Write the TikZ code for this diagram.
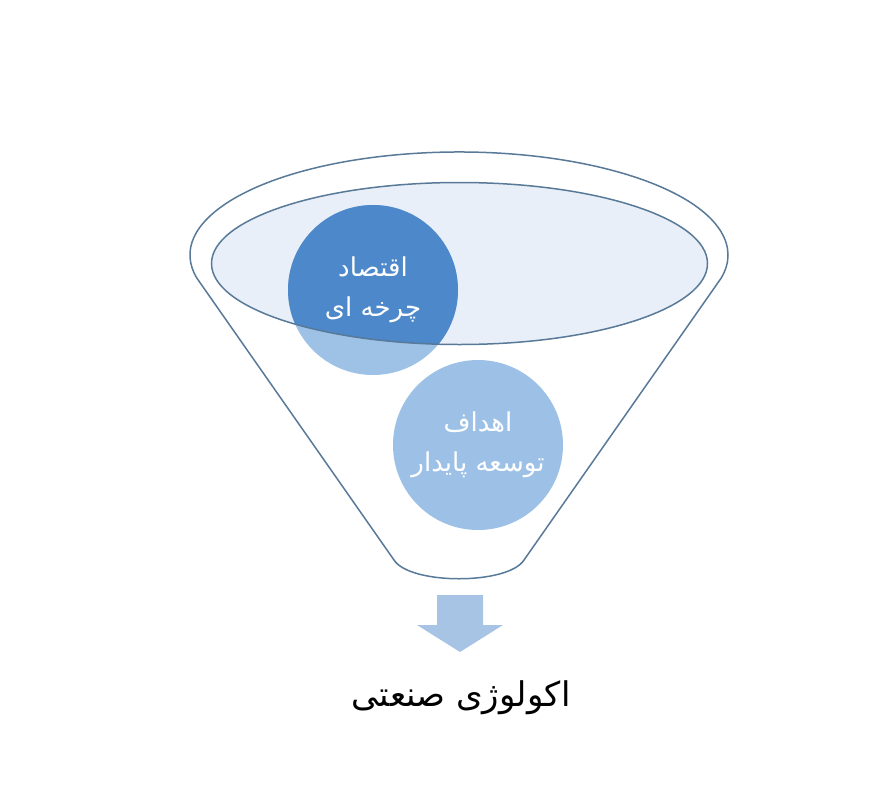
\documentclass[tikz,border=0pt]{standalone}
\usepackage{fontspec}
\newfontfamily\arabicfont[Script=Arabic]{DejaVu Sans}
\TeXXeTstate=1
\definecolor{rimline}{RGB}{88,122,152}
\definecolor{rimfill}{RGB}{233,239,248}
\definecolor{cycdark}{RGB}{76,136,202}
\definecolor{cyclight}{RGB}{158,194,230}
\definecolor{goalblue}{RGB}{157,193,230}
\definecolor{arrowblue}{RGB}{168,196,228}

\begin{document}
\begin{tikzpicture}[x=1pt, y=-1pt,
    funnel/.style={draw=rimline, line width=1.5pt},
    bubble/.style={circle, minimum size=170pt, inner sep=0pt, align=center,
                   text=white, font=\arabicfont\fontsize{26}{40}\selectfont},
    caption/.style={font=\arabicfont\fontsize{34}{40}\selectfont, text=black}]
        \useasboundingbox (0,0) rectangle (891,800);

        % Outer funnel
        \draw[funnel, fill=white]
            (459,255) ++(167:269 and 103) arc[start angle=167, end angle=373, x radius=269, y radius=103]
            -- (524,560) .. controls (508,585) and (410,585) .. (394,560) -- cycle;

        % Rim of the funnel
        \coordinate (rim) at (459.5,263.5);
        \fill[rimfill] (rim) ellipse [x radius=248, y radius=81];

        % First circle, darker inside the rim
        \coordinate (cyc) at (373,290);
        \fill[cyclight] (cyc) circle (85);
        \begin{scope}
            \clip (rim) ellipse [x radius=248, y radius=81];
            \fill[cycdark] (cyc) circle (85);
        \end{scope}
        \draw[funnel] (rim) ellipse [x radius=248, y radius=81];

        \node[bubble] (cycle) at (cyc) {\beginR اقتصاد\endR\\\beginR چرخه ای\endR};
        \node[bubble, fill=goalblue] (goals) at (478,445) {\beginR اهداف\endR\\\beginR توسعه پایدار\endR};

        % Down arrow
        \fill[arrowblue] (437,595) -- (483,595) -- (483,625) -- (503,625)
            -- (460,652) -- (417,625) -- (437,625) -- cycle;

        \node[caption] (ecology) at (461,698) {\beginR اکولوژی صنعتی\endR};
    \end{tikzpicture}
\end{document}
